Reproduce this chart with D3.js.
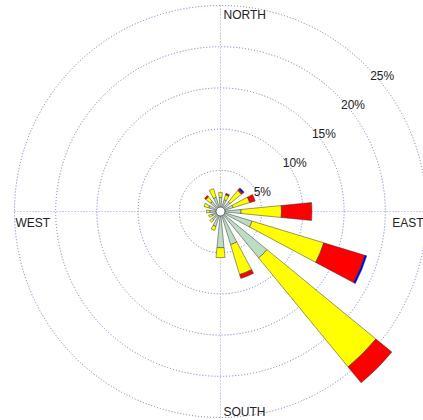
<!DOCTYPE html>
<html>
<head>
<meta charset="utf-8">
<script src="https://cdn.jsdelivr.net/npm/d3@7"></script>
<style>
  body { margin: 0; background: #fff; }
  text { font-family: "Liberation Sans", Arial, sans-serif; font-size: 12px; fill: #222; }
</style>
</head>
<body>
<div id="rose"></div>
<script>
// wind directions, 16 sectors clockwise from north
var directions = ["N", "NNE", "NE", "ENE", "E", "ESE", "SE", "SSE",
                  "S", "SSW", "SW", "WSW", "W", "WNW", "NW", "NNW"];

// frequency (%) per speed class
var speedClasses = ["class1", "class2", "class3", "class4"];
var class1 = [1.7, 1.5, 1.5, 1.6, 2.5, 4.0, 7.3, 4.2, 4.4, 1.9, 1.3, 1.1, 1.3, 1.5, 1.6, 1.8];
var class2 = [0.6, 0.6, 1.8, 2.1, 4.9, 9.1, 17.1, 3.8, 1.2, 0.5, 0.4, 0.4, 0.4, 0.6, 0.7, 1.1];
var class3 = [0, 0.2, 0.2, 0.7, 3.7, 5.2, 2.5, 0.5, 0, 0, 0, 0, 0, 0, 0.2, 0];
var class4 = [0, 0, 0.2, 0, 0, 0.25, 0, 0, 0, 0, 0, 0, 0, 0, 0, 0];

var gridValues = [5, 10, 15, 20, 25];
var gridLabels = ["5%", "10%", "15%", "20%", "25%"];
var compassLabels = ["NORTH", "EAST", "SOUTH", "WEST"];

var colors = ["#bcdcc3", "#ffff00", "#ff0000", "#0000ff"];

var width = 423, height = 420,
    cx = 220.5, cy = 211.5,
    maxR = 206

var table = directions.map(function(d, i) {
  return {dir: d, class1: class1[i], class2: class2[i], class3: class3[i], class4: class4[i]};
});

var stacked = d3.stack().keys(speedClasses)(table);

var rScale = d3.scaleLinear()
  .domain([0, 25])
  .range([0, maxR])

var angle = d3.scaleBand()
  .domain(directions)
  .range([-Math.PI / 16, 2 * Math.PI - Math.PI / 16])
  .paddingInner(0.5)
  .paddingOuter(0.25)

var svg = d3.select("#rose")
  .append("svg")
    .attr("width", width)
    .attr("height", height)

var g = svg.append("g")
  .attr("transform", "translate(" + cx + "," + cy + ")")

// grid circles
g.selectAll(".ring")
  .data(gridValues)
  .enter()
  .append("circle")
    .attr("class", "ring")
    .attr("r", function(d) { return rScale(d); })
    .attr("fill", "none")
    .attr("stroke", "#7070c0")
    .attr("stroke-width", 1)
    .style("stroke-dasharray", "1, 2")

// cross lines
g.append("line")
  .attr("x1", -rScale(25)).attr("x2", rScale(25))
  .attr("y1", 0).attr("y2", 0)
  .attr("stroke", "#9a9ad0")
  .style("stroke-dasharray", "1, 2")

g.append("line")
  .attr("x1", 0).attr("x2", 0)
  .attr("y1", -rScale(25)).attr("y2", rScale(25))
  .attr("stroke", "#9a9ad0")
  .style("stroke-dasharray", "1, 2")

// ring labels along the 45 degree line
g.selectAll(".ringLabel")
  .data(gridValues)
  .enter()
  .append("text")
    .attr("class", "ringLabel")
    .attr("x", function(d) { return rScale(d) * Math.SQRT1_2 + 4; })
    .attr("y", function(d) { return -rScale(d) * Math.SQRT1_2 + 14; })
    .text(function(d, i) { return gridLabels[i]; })

// petals
var arc = d3.arc()
  .innerRadius(function(d) { return rScale(d[0]); })
  .outerRadius(function(d) { return rScale(d[1]); })
  .startAngle(function(d) { return angle(d.data.dir); })
  .endAngle(function(d) { return angle(d.data.dir) + angle.bandwidth(); })

stacked.forEach(function(layer, i) {
  g.append("g")
    .selectAll("path")
    .data(layer.filter(function(d) { return d[1] > d[0]; }))
    .enter()
    .append("path")
      .attr("d", arc)
      .attr("fill", colors[i])
      .attr("stroke", "#333")
      .attr("stroke-width", 0.5)
});

// calm circle
g.append("circle")
  .attr("r", 4.5)
  .attr("fill", "#fff")
  .attr("stroke", "#444")
  .attr("stroke-width", 0.8)

// compass labels
g.append("text").attr("x", 3).attr("y", -maxR + 13).text(compassLabels[0]);
g.append("text").attr("x", maxR - 3).attr("y", 15).attr("text-anchor", "end").text(compassLabels[1]);
g.append("text").attr("x", 3).attr("y", maxR - 2).text(compassLabels[2]);
g.append("text").attr("x", -maxR + 1).attr("y", 15).text(compassLabels[3]);
</script>
</body>
</html>
